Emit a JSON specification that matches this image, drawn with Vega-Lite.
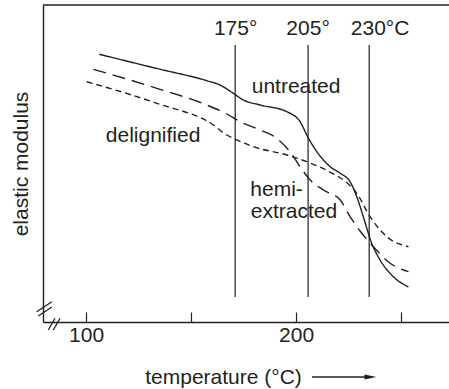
{
  "$schema": "https://vega.github.io/schema/vega-lite/v6.json",
  "width": 406,
  "height": 317,
  "autosize": {"type": "none"},
  "padding": {"left": 43, "top": 5, "right": 0, "bottom": 67},
  "background": "white",
  "config": {
    "view": {"stroke": null},
    "font": "Liberation Sans",
    "axis": {"grid": false, "domainColor": "#231f20", "domainWidth": 1.4, "labelColor": "#231f20", "titleColor": "#231f20", "labelFont": "Liberation Sans", "titleFont": "Liberation Sans", "titleFontWeight": "normal"}
  },
  "datasets": {
    "curves": [
      {"t": 106.3, "m": 267.7, "s": "untreated"},
      {"t": 133.7, "m": 253.5, "s": "untreated"},
      {"t": 157.5, "m": 241.3, "s": "untreated"},
      {"t": 163.8, "m": 237, "s": "untreated"},
      {"t": 170.1, "m": 228.7, "s": "untreated"},
      {"t": 174.9, "m": 222, "s": "untreated"},
      {"t": 182.9, "m": 217, "s": "untreated"},
      {"t": 195.6, "m": 210.3, "s": "untreated"},
      {"t": 201.9, "m": 200.3, "s": "untreated"},
      {"t": 205.9, "m": 183.7, "s": "untreated"},
      {"t": 209.9, "m": 170.3, "s": "untreated"},
      {"t": 216.2, "m": 155.3, "s": "untreated"},
      {"t": 221, "m": 148.7, "s": "untreated"},
      {"t": 225.7, "m": 140.3, "s": "untreated"},
      {"t": 228.9, "m": 125.3, "s": "untreated"},
      {"t": 232, "m": 105.3, "s": "untreated"},
      {"t": 236, "m": 78.7, "s": "untreated"},
      {"t": 240, "m": 62, "s": "untreated"},
      {"t": 246.3, "m": 45.3, "s": "untreated"},
      {"t": 253.5, "m": 35, "s": "untreated"},
      {"t": 103.5, "m": 252.7, "s": "hemi-extracted"},
      {"t": 133.7, "m": 233.7, "s": "hemi-extracted"},
      {"t": 157.5, "m": 217, "s": "hemi-extracted"},
      {"t": 167, "m": 208, "s": "hemi-extracted"},
      {"t": 173.3, "m": 200.3, "s": "hemi-extracted"},
      {"t": 182.9, "m": 192, "s": "hemi-extracted"},
      {"t": 190.8, "m": 183.7, "s": "hemi-extracted"},
      {"t": 197.1, "m": 170.3, "s": "hemi-extracted"},
      {"t": 201.9, "m": 155.3, "s": "hemi-extracted"},
      {"t": 206.7, "m": 142, "s": "hemi-extracted"},
      {"t": 213, "m": 132, "s": "hemi-extracted"},
      {"t": 221, "m": 122, "s": "hemi-extracted"},
      {"t": 225.7, "m": 105.3, "s": "hemi-extracted"},
      {"t": 231.3, "m": 88.7, "s": "hemi-extracted"},
      {"t": 236.8, "m": 75.3, "s": "hemi-extracted"},
      {"t": 244.8, "m": 58.7, "s": "hemi-extracted"},
      {"t": 253.5, "m": 50.3, "s": "hemi-extracted"},
      {"t": 100.3, "m": 240.3, "s": "delignified"},
      {"t": 133.7, "m": 218.7, "s": "delignified"},
      {"t": 160.6, "m": 197, "s": "delignified"},
      {"t": 167, "m": 187, "s": "delignified"},
      {"t": 170.1, "m": 183.7, "s": "delignified"},
      {"t": 179.7, "m": 175.3, "s": "delignified"},
      {"t": 195.6, "m": 167, "s": "delignified"},
      {"t": 205.1, "m": 160.3, "s": "delignified"},
      {"t": 217.8, "m": 148, "s": "delignified"},
      {"t": 224.1, "m": 139.5, "s": "delignified"},
      {"t": 228.9, "m": 128.7, "s": "delignified"},
      {"t": 235.2, "m": 105.3, "s": "delignified"},
      {"t": 243.2, "m": 85.3, "s": "delignified"},
      {"t": 253.5, "m": 75.3, "s": "delignified"}
    ],
    "vlines": [
      {"t": 171, "m": 25, "m2": 277},
      {"t": 205.7, "m": 25, "m2": 277},
      {"t": 234.8, "m": 25, "m2": 277}
    ],
    "segments": [
      {"t": 79.5, "t2": 272.8, "m": 317, "m2": 317},
      {"t": 76.5, "t2": 83.7, "m": 10.3, "m2": 20.3},
      {"t": 77.3, "t2": 83.7, "m": 6, "m2": 15},
      {"t": 82, "t2": 85.2, "m": -8, "m2": 3.7},
      {"t": 84.4, "t2": 87.6, "m": -8, "m2": 3.7},
      {"t": 207.6, "t2": 233, "m": -55, "m2": -55}
    ],
    "labels": [
      {"t": 171.2, "m": 293.5, "text": "175°"},
      {"t": 205.7, "m": 293.5, "text": "205°"},
      {"t": 240, "m": 293.5, "text": "230°C"},
      {"t": 200, "m": 235.5, "text": "untreated"},
      {"t": 131.9, "m": 186, "text": "delignified"},
      {"t": 190.7, "m": 132.5, "text": "hemi-"},
      {"t": 199, "m": 110.5, "text": "extracted"}
    ],
    "arrowhead": [
      {"t": 235.4, "m": -55}
    ]
  },
  "layer": [
    {
      "data": {"name": "curves"},
      "mark": {"type": "line", "interpolate": "monotone", "strokeWidth": 1.4, "color": "#231f20"},
      "encoding": {
        "x": {"field": "t", "type": "quantitative", "scale": {"domain": [79.5, 272.8], "nice": false, "zero": false},
          "axis": {"values": [100, 150, 200, 250], "tickSize": -10, "tickColor": "#231f20", "tickWidth": 1.2,
            "labelExpr": "datum.value % 100 === 0 ? datum.label : ''", "labelFontSize": 21, "labelPadding": 12,
            "title": "temperature (°C)", "titleFontSize": 21, "titleX": 180, "titleY": 55, "titleAlign": "center", "titleBaseline": "middle", "titleAnchor": null}},
        "y": {"field": "m", "type": "quantitative", "scale": {"domain": [0, 317], "nice": false, "zero": false},
          "axis": {"ticks": false, "labels": false, "title": "elastic modulus", "titleFontSize": 21, "titleX": -22, "titleBaseline": "middle"}},
        "detail": {"field": "s"},
        "strokeDash": {"field": "s", "type": "nominal", "scale": {"domain": ["untreated", "hemi-extracted", "delignified"], "range": [[1, 0], [13, 7], [6, 4]]}, "legend": null}
      }
    },
    {
      "data": {"name": "vlines"},
      "mark": {"type": "rule", "color": "#231f20", "strokeWidth": 1.2},
      "encoding": {
        "x": {"field": "t", "type": "quantitative"},
        "y": {"field": "m", "type": "quantitative"},
        "y2": {"field": "m2"}
      }
    },
    {
      "data": {"name": "segments"},
      "mark": {"type": "rule", "color": "#231f20", "strokeWidth": 1.3, "clip": false},
      "encoding": {
        "x": {"field": "t", "type": "quantitative"},
        "x2": {"field": "t2"},
        "y": {"field": "m", "type": "quantitative"},
        "y2": {"field": "m2"}
      }
    },
    {
      "data": {"name": "arrowhead"},
      "mark": {"type": "point", "shape": "M-1,-0.4L1,0L-1,0.4Z", "size": 144, "filled": true, "color": "#231f20", "opacity": 1, "clip": false},
      "encoding": {
        "x": {"field": "t", "type": "quantitative"},
        "y": {"field": "m", "type": "quantitative"}
      }
    },
    {
      "data": {"name": "labels"},
      "mark": {"type": "text", "fontSize": 21, "font": "Liberation Sans", "color": "#231f20", "align": "center", "baseline": "middle"},
      "encoding": {
        "x": {"field": "t", "type": "quantitative"},
        "y": {"field": "m", "type": "quantitative"},
        "text": {"field": "text"}
      }
    }
  ]
}
